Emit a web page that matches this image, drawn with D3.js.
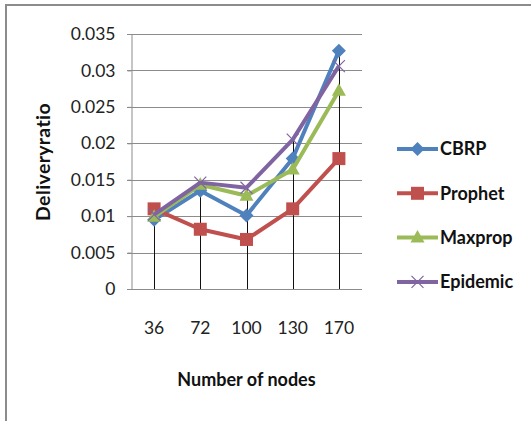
<!DOCTYPE html>
<html>
<head>
<meta charset="utf-8">
<script src="https://cdn.jsdelivr.net/npm/d3@7"></script>
<style>
	body { margin: 0; background: #fff; }
	svg { display: block; font-family: Lato, sans-serif; }
</style>
</head>
<body>
<div id="chart"></div>
<script>
// data
var nodes = ["36", "72", "100", "130", "170"];
var seriesNames = ["CBRP", "Prophet", "Maxprop", "Epidemic"];
var cbrp = [0.0095, 0.0135, 0.0101, 0.0179, 0.0327];
var prophet = [0.011, 0.0082, 0.0068, 0.011, 0.0179];
var maxprop = [0.0099, 0.0143, 0.0128, 0.0164, 0.0272];
var epidemic = [0.0102, 0.0146, 0.0139, 0.0205, 0.0306];
var yTicks = [0, 0.005, 0.01, 0.015, 0.02, 0.025, 0.03, 0.035];
var yTickLabels = ["0", "0.005", "0.01", "0.015", "0.02", "0.025", "0.03", "0.035"];

var width = 531;
var height = 421;
var margin = {top: 34, right: 169, bottom: 132, left: 131};

var colors = ["#4f81bd", "#c0504d", "#9bbb59", "#8064a2"];
var shapes = ["diamond", "square", "triangle", "cross"];

var series = [cbrp, prophet, maxprop, epidemic].map((vals, i) => ({
	name: seriesNames[i],
	color: colors[i],
	shape: shapes[i],
	values: vals.map((v, j) => ({node: nodes[j], value: v}))
}));

var svg = d3.select("#chart").append("svg")
	.attr("width", width)
	.attr("height", height);

// frame
svg.append("path")
	.attr("d", `M6,${height} V5 H${width}`)
	.attr("fill", "none")
	.attr("stroke", "#8c8c8c")
	.attr("stroke-width", 2);

var x = d3.scaleBand()
	.domain(nodes)
	.range([margin.left, width - margin.right]);

var y = d3.scaleLinear()
	.domain([0, 0.035])
	.range([height - margin.bottom, margin.top]);

// grid lines
svg.append("g")
	.selectAll("line")
	.data(yTicks)
	.join("line")
	.attr("x1", margin.left - 4)
	.attr("x2", width - margin.right)
	.attr("y1", d => Math.round(y(d)) + 0.5)
	.attr("y2", d => Math.round(y(d)) + 0.5)
	.attr("stroke", "#8c8c8c")
	.attr("stroke-width", 1);

// y axis
var yAxis = svg.append("g")
	.attr("transform", `translate(${margin.left + 0.5},0)`)
	.call(d3.axisLeft(y)
		.tickValues(yTicks)
		.tickFormat((d, i) => yTickLabels[i])
		.tickSize(4)
		.tickPadding(12));
yAxis.select(".domain").attr("stroke", "#8c8c8c");
yAxis.selectAll(".tick line").attr("stroke", "#8c8c8c");
yAxis.selectAll("text")
	.attr("fill", "#222")
	.style("font-size", "17.5px")
	.style("font-family", "Lato, sans-serif");

// x axis
var xAxis = svg.append("g")
	.attr("transform", `translate(0,${height - margin.bottom})`)
	.call(d3.axisBottom(x).tickSize(0).tickPadding(33));
xAxis.select(".domain").remove();
xAxis.selectAll("text")
	.attr("fill", "#222")
	.style("font-size", "17.5px")
	.style("font-family", "Lato, sans-serif");

// drop lines from the highest point to the axis
svg.append("g")
	.selectAll("line")
	.data(nodes)
	.join("line")
	.attr("x1", d => Math.round(x(d) + x.bandwidth() / 2) + 0.5)
	.attr("x2", d => Math.round(x(d) + x.bandwidth() / 2) + 0.5)
	.attr("y1", (d, j) => y(d3.max(series, s => s.values[j].value)))
	.attr("y2", y(0))
	.attr("stroke", "#111")
	.attr("stroke-width", 1);

var line = d3.line()
	.x(d => x(d.node) + x.bandwidth() / 2)
	.y(d => y(d.value));

function marker(g, shape, color) {
	if (shape === "diamond") {
		g.append("path").attr("d", "M0,-7L7,0L0,7L-7,0Z").attr("fill", color);
	} else if (shape === "square") {
		g.append("rect").attr("x", -6.5).attr("y", -6.5).attr("width", 13).attr("height", 13).attr("fill", color);
	} else if (shape === "triangle") {
		g.append("path").attr("d", "M0,-7.5L7,5L-7,5Z").attr("fill", color);
	} else {
		g.append("path").attr("d", "M-6,-6L6,6M-6,6L6,-6")
			.attr("stroke", color).attr("stroke-width", 1.2).attr("fill", "none");
	}
}

var plot = svg.append("g");
series.forEach(s => {
	var g = plot.append("g");
	g.append("path")
		.datum(s.values)
		.attr("d", line)
		.attr("fill", "none")
		.attr("stroke", s.color)
		.attr("stroke-width", 4)
		.attr("stroke-linejoin", "round");
	g.selectAll("g")
		.data(s.values)
		.join("g")
		.attr("transform", d => `translate(${x(d.node) + x.bandwidth() / 2},${y(d.value)})`)
		.each(function() { marker(d3.select(this), s.shape, s.color); });
});

// axis titles
svg.append("text")
	.attr("x", (margin.left + width - margin.right) / 2)
	.attr("y", 386)
	.attr("text-anchor", "middle")
	.attr("fill", "#111")
	.style("font-size", "18px")
	.style("font-weight", "bold")
	.text("Number of nodes");

svg.append("text")
	.attr("transform", "translate(49.5,162) rotate(-90)")
	.attr("text-anchor", "middle")
	.attr("fill", "#111")
	.style("font-size", "19.5px")
	.style("font-weight", "bold")
	.style("letter-spacing", "0.4px")
	.style("word-spacing", "-5px")
	.text("Delivery ratio");

// legend
var legend = svg.append("g")
	.selectAll("g")
	.data(series)
	.join("g")
	.attr("transform", (d, i) => `translate(397,${149 + i * 44.3})`);

legend.append("line")
	.attr("x1", 0)
	.attr("x2", 41)
	.attr("stroke", d => d.color)
	.attr("stroke-width", 4);

legend.append("g")
	.attr("transform", "translate(20.5,0)")
	.each(function(d) { marker(d3.select(this), d.shape, d.color); });

legend.append("text")
	.attr("x", 43)
	.attr("dy", "0.35em")
	.attr("fill", "#111")
	.style("font-size", "18px")
	.style("font-weight", "bold")
	.text(d => d.name);
</script>
</body>
</html>
